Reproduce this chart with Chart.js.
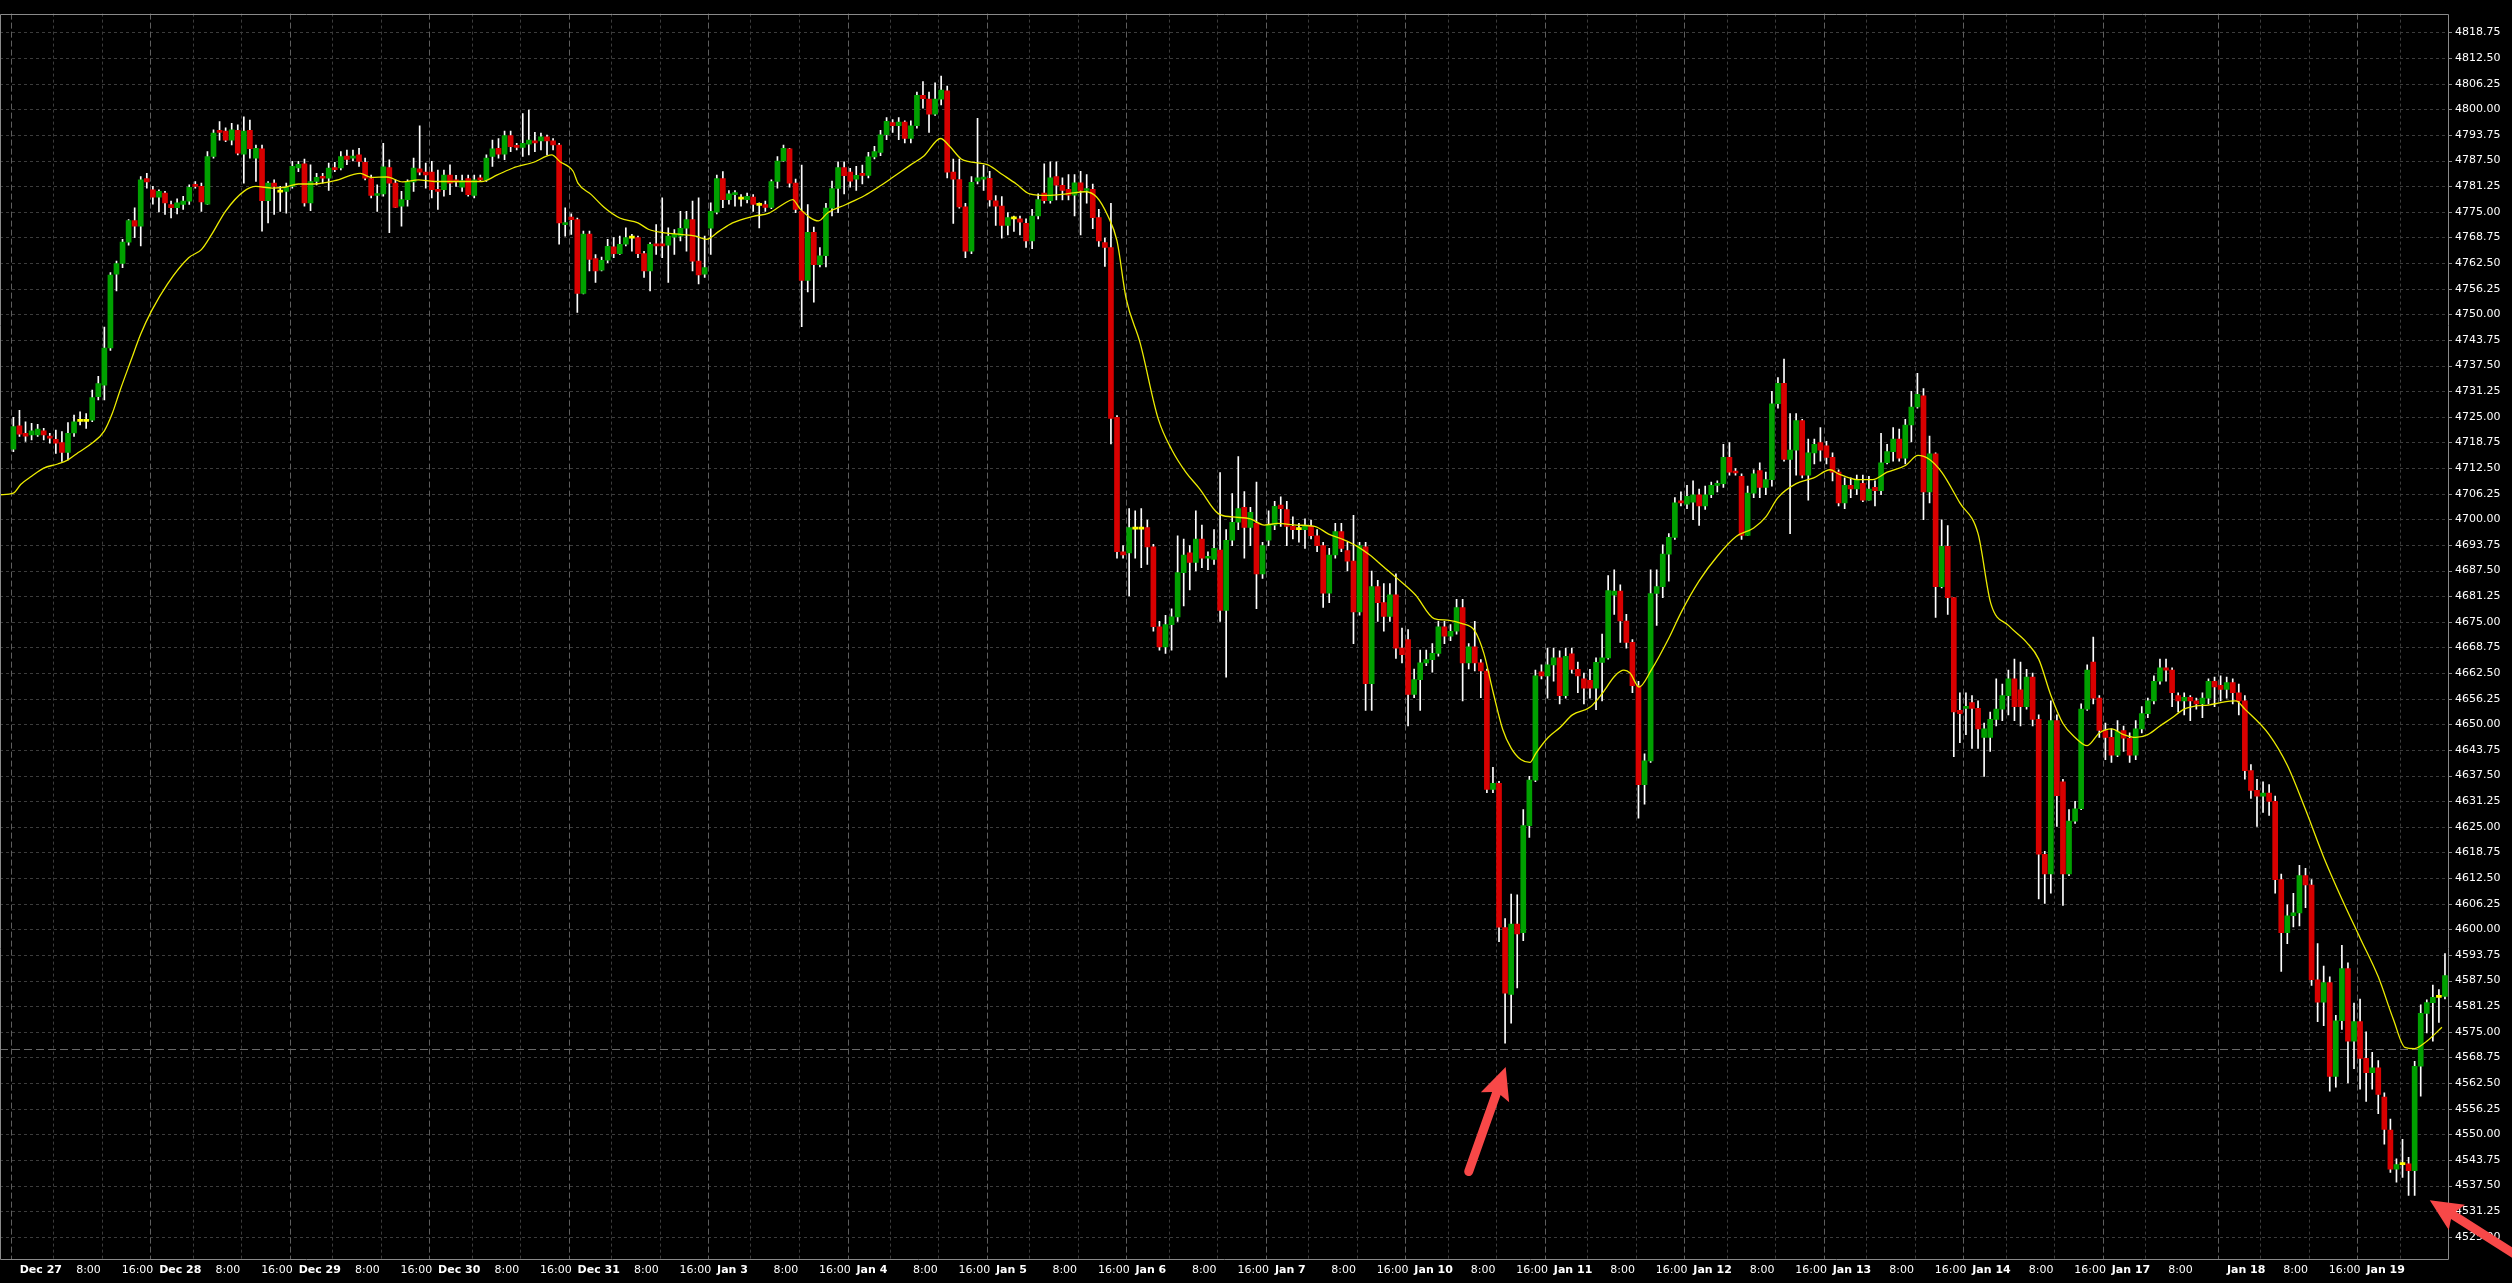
<!DOCTYPE html>
<html>
<head>
<meta charset="utf-8">
<title>Hourly candles Dec 27 - Jan 19</title>
<script src="https://cdn.jsdelivr.net/npm/chart.js@4.4.1/dist/chart.umd.min.js"></script>
<style>
  html, body { margin: 0; padding: 0; background: #000; }
  #wrap { width: 2512px; height: 1283px; }
</style>
</head>
<body>
<div id="wrap"><canvas id="chart" width="2512" height="1283"></canvas></div>
<script>
// Hourly candles, one array per trading day: [open, high, low, close]
const dec27 = [
  [4717.1,4724.9,4716.5,4722.6],[4722.8,4726.6,4720.2,4720.8],[4721.0,4723.8,4719.0,4720.3],[4720.6,4723.4,4719.4,4721.6],
  [4720.6,4723.2,4720.2,4722.0],[4721.6,4722.2,4719.4,4720.6],[4720.2,4721.0,4718.6,4719.8],[4719.5,4721.8,4716.1,4718.6],
  [4718.7,4721.4,4714.1,4716.3],[4716.3,4723.6,4714.5,4721.0],[4721.1,4725.4,4720.2,4723.8],[4723.9,4726.2,4723.0,4723.9],
  [4723.9,4725.8,4722.2,4723.9],[4724.2,4731.5,4723.8,4729.7],[4729.9,4734.9,4729.1,4733.1],[4732.7,4746.9,4729.1,4741.8],
  [4741.8,4760.2,4741.2,4759.6],[4759.8,4763.0,4755.7,4762.4],[4762.4,4768.3,4761.4,4767.6],[4767.6,4773.1,4766.9,4772.9],
  [4772.9,4776.0,4768.7,4771.5],[4771.5,4783.6,4766.7,4782.8],[4783.1,4784.4,4780.8,4782.3]
];
const dec28 = [
  [4780.4,4781.2,4776.9,4778.6],[4778.6,4780.4,4775.0,4780.0],[4779.6,4780.0,4774.4,4777.2],[4776.8,4777.6,4773.5,4776.0],
  [4776.0,4778.2,4774.5,4777.2],[4776.8,4778.8,4775.6,4777.6],[4777.6,4781.6,4776.8,4781.0],[4781.6,4782.4,4780.8,4781.2],
  [4781.2,4782.0,4775.1,4777.4],[4776.9,4789.7,4776.8,4788.5],[4788.5,4795.0,4788.1,4794.2],[4794.7,4797.0,4792.5,4794.4],
  [4794.7,4795.5,4792.1,4792.5],[4792.5,4796.6,4791.3,4795.0],[4794.9,4796.2,4788.9,4789.3],[4789.1,4798.2,4782.0,4794.7],
  [4794.9,4797.4,4788.1,4790.4],[4788.1,4791.3,4782.4,4790.5],[4790.4,4791.3,4770.3,4777.7],[4777.7,4782.4,4772.3,4782.0],
  [4782.0,4782.8,4774.4,4781.2],[4779.8,4781.2,4775.1,4779.8],[4780.0,4782.0,4774.7,4781.0]
];
const dec29 = [
  [4781.2,4787.3,4780.8,4786.1],[4785.7,4787.3,4784.8,4786.6],[4786.7,4787.9,4776.4,4777.2],[4777.2,4786.5,4775.3,4782.4],
  [4782.4,4784.4,4781.6,4783.4],[4783.6,4784.4,4782.0,4783.2],[4783.2,4786.9,4780.2,4785.7],[4785.7,4787.1,4784.8,4785.3],
  [4785.7,4789.7,4785.2,4788.5],[4788.6,4790.1,4786.5,4787.8],[4788.1,4790.1,4787.4,4788.6],[4788.9,4790.5,4786.1,4787.3],
  [4787.1,4788.1,4782.8,4783.2],[4783.1,4784.0,4778.4,4779.0],[4779.0,4781.6,4775.1,4779.4],[4779.4,4791.7,4778.8,4786.0],
  [4785.8,4787.7,4769.9,4782.0],[4782.0,4782.8,4776.0,4776.1],[4776.4,4780.0,4771.5,4778.0],[4778.0,4782.8,4776.4,4782.4],
  [4782.3,4788.1,4780.0,4785.7],[4785.5,4796.0,4784.0,4784.7],[4784.7,4786.9,4780.8,4784.0]
];
const dec30 = [
  [4784.7,4787.3,4778.4,4780.4],[4780.4,4785.2,4775.6,4780.0],[4780.4,4785.2,4778.8,4784.0],[4784.0,4786.5,4779.2,4782.0],
  [4782.8,4783.9,4781.2,4782.3],[4781.0,4784.0,4780.0,4782.6],[4783.1,4784.0,4778.8,4779.2],[4779.0,4784.0,4778.4,4782.8],
  [4783.2,4784.0,4782.4,4782.8],[4782.8,4788.9,4782.4,4788.1],[4788.5,4792.5,4786.1,4790.4],[4790.5,4792.9,4788.1,4789.1],
  [4789.1,4794.7,4787.7,4793.6],[4793.6,4794.7,4789.7,4790.9],[4791.2,4791.7,4790.1,4790.7],[4790.7,4799.0,4788.5,4791.7],
  [4791.5,4799.8,4788.9,4792.5],[4792.3,4794.4,4789.7,4791.8],[4792.3,4794.2,4790.1,4793.3],[4793.3,4793.7,4788.9,4792.3],
  [4792.3,4792.9,4790.1,4791.3],[4791.3,4791.7,4767.1,4772.3],[4771.9,4776.0,4769.1,4772.3]
];
const dec31 = [
  [4773.7,4774.5,4769.5,4773.1],[4773.1,4773.5,4750.5,4755.1],[4755.1,4770.3,4755.0,4769.6],[4769.6,4770.3,4760.6,4763.4],
  [4763.6,4764.6,4757.8,4760.6],[4760.8,4764.0,4760.6,4763.2],[4763.2,4768.3,4762.6,4766.6],[4766.5,4768.7,4763.8,4764.8],
  [4764.8,4769.1,4764.6,4767.1],[4767.1,4771.1,4766.7,4768.7],[4768.6,4769.5,4765.4,4768.6],[4768.7,4769.1,4763.8,4764.8],
  [4764.8,4765.4,4759.0,4760.6],[4760.6,4767.5,4755.7,4767.1],[4767.2,4771.9,4764.6,4766.7],[4766.9,4778.4,4763.8,4766.7],
  [4766.9,4771.1,4757.8,4769.1],[4768.8,4770.7,4764.6,4769.5],[4769.1,4775.1,4767.9,4771.0],[4771.0,4775.1,4765.4,4773.1],
  [4773.1,4777.6,4760.6,4763.0],[4763.0,4778.4,4757.4,4759.6],[4759.8,4769.1,4759.0,4761.4]
];
const jan3 = [
  [4771.0,4777.2,4764.6,4775.1],[4774.9,4784.0,4774.5,4783.1],[4783.1,4784.8,4776.0,4778.0],[4778.0,4780.2,4776.9,4779.4],
  [4779.2,4780.2,4776.4,4779.6],[4778.1,4779.2,4776.4,4778.1],[4778.0,4779.6,4777.2,4778.8],[4778.6,4779.2,4775.1,4776.8],
  [4776.6,4777.2,4771.1,4776.6],[4776.8,4777.6,4775.1,4776.1],[4776.1,4782.8,4775.8,4782.4],[4782.4,4788.5,4780.8,4787.4],
  [4787.4,4791.3,4787.3,4790.5],[4790.4,4790.5,4781.0,4782.0],[4782.0,4783.0,4774.8,4775.6],[4775.1,4786.4,4747.0,4758.3],
  [4758.3,4776.8,4755.5,4770.0],[4770.0,4771.3,4753.0,4762.1],[4762.1,4766.3,4761.6,4764.3],[4764.3,4777.1,4761.6,4775.9],
  [4775.9,4782.5,4774.0,4780.7],[4780.7,4787.2,4774.8,4785.8],[4785.8,4787.2,4779.4,4783.8]
];
const jan4 = [
  [4784.7,4785.6,4781.0,4782.5],[4783.0,4786.1,4780.2,4783.9],[4784.4,4786.4,4781.8,4783.9],[4783.9,4789.5,4783.3,4788.4],
  [4788.4,4791.0,4787.9,4789.7],[4789.5,4794.9,4788.7,4793.8],[4793.8,4798.0,4792.6,4797.1],[4796.8,4797.5,4794.4,4796.0],
  [4796.0,4798.0,4792.6,4796.9],[4796.9,4797.2,4791.8,4792.9],[4792.9,4797.2,4791.8,4796.0],[4796.0,4804.2,4795.4,4803.4],
  [4803.4,4806.8,4800.3,4802.6],[4802.5,4804.2,4794.4,4798.8],[4798.8,4806.5,4798.5,4802.5],[4802.5,4808.1,4801.1,4804.7],
  [4804.5,4805.7,4783.3,4784.7],[4784.7,4787.9,4772.2,4783.0],[4782.9,4787.9,4775.9,4776.2],[4776.2,4777.1,4763.8,4765.4],
  [4765.4,4783.6,4764.8,4782.2],[4782.5,4797.8,4781.8,4783.3],[4783.0,4786.4,4780.2,4783.3]
];
const jan5 = [
  [4783.2,4784.9,4776.4,4777.9],[4777.7,4779.0,4771.7,4776.4],[4776.4,4778.7,4768.6,4771.7],[4771.7,4774.8,4769.4,4773.6],
  [4773.3,4774.0,4770.2,4773.3],[4773.3,4774.0,4769.4,4772.5],[4772.2,4773.3,4766.3,4767.9],[4767.9,4775.6,4766.0,4774.0],
  [4774.0,4779.4,4773.3,4778.0],[4779.6,4786.7,4777.1,4777.7],[4777.7,4787.2,4777.1,4783.3],[4783.6,4787.2,4777.9,4781.5],
  [4781.5,4783.3,4777.9,4780.2],[4780.5,4784.1,4777.9,4779.1],[4779.1,4784.1,4774.0,4782.1],[4782.1,4784.9,4769.4,4780.2],
  [4780.2,4784.1,4777.1,4780.7],[4780.5,4781.8,4770.9,4773.6],[4773.6,4775.6,4766.6,4767.9],[4767.5,4768.6,4761.7,4766.3],
  [4766.3,4777.1,4718.4,4724.6],[4724.9,4725.3,4690.5,4692.1],[4692.1,4693.6,4690.5,4691.3]
];
const jan6 = [
  [4691.8,4702.6,4681.3,4698.0],[4697.6,4702.1,4690.5,4697.6],[4697.6,4702.6,4688.2,4697.6],[4698.0,4699.8,4689.0,4693.3],
  [4693.3,4693.9,4672.7,4673.8],[4673.8,4675.1,4668.1,4668.9],[4668.9,4676.6,4667.3,4674.3],[4674.3,4678.2,4668.1,4676.2],
  [4676.2,4696.0,4675.1,4687.0],[4687.0,4695.2,4678.9,4691.3],[4691.8,4693.6,4682.8,4689.5],[4689.5,4702.1,4687.4,4695.2],
  [4695.2,4698.6,4688.2,4690.5],[4690.5,4692.1,4687.7,4690.7],[4690.2,4697.5,4689.0,4692.9],[4692.5,4711.4,4675.1,4677.8],
  [4677.8,4697.5,4661.5,4694.9],[4694.9,4706.3,4693.6,4699.3],[4699.3,4715.3,4697.5,4702.6],[4702.9,4706.8,4690.5,4698.0],
  [4698.0,4702.9,4693.6,4701.7],[4699.0,4709.1,4678.2,4686.7],[4686.7,4694.4,4685.6,4693.6]
];
const jan7 = [
  [4694.9,4702.1,4693.6,4698.6],[4698.6,4704.4,4697.5,4703.2],[4703.5,4705.5,4698.3,4702.6],[4702.4,4704.4,4693.6,4698.3],
  [4698.3,4700.6,4695.2,4697.5],[4697.5,4699.0,4694.4,4697.5],[4697.5,4700.1,4692.9,4698.6],[4698.3,4699.8,4695.2,4696.0],
  [4696.0,4697.5,4692.1,4693.6],[4693.6,4694.4,4678.5,4682.0],[4682.0,4692.9,4679.7,4691.3],[4691.3,4699.0,4690.5,4697.0],
  [4697.0,4699.0,4692.1,4692.9],[4692.4,4694.4,4687.4,4689.8],[4689.8,4701.0,4669.7,4677.4],[4677.4,4694.4,4676.6,4693.6],
  [4693.3,4694.4,4653.4,4659.9],[4659.9,4687.4,4653.4,4683.6],[4683.6,4685.1,4675.1,4679.7],[4679.7,4684.3,4672.7,4676.3],
  [4676.3,4684.3,4675.1,4681.6],[4681.6,4686.7,4666.1,4668.6],[4668.6,4673.5,4665.0,4667.0]
];
const jan10 = [
  [4670.7,4673.1,4649.6,4657.3],[4657.3,4663.5,4656.5,4660.9],[4660.9,4668.1,4653.4,4665.0],[4665.0,4668.1,4664.3,4665.8],
  [4665.8,4669.7,4662.7,4667.3],[4667.3,4675.1,4666.6,4673.8],[4673.8,4675.1,4669.7,4671.5],[4671.5,4674.3,4670.4,4672.7],
  [4672.7,4680.5,4672.0,4678.5],[4678.5,4680.5,4655.7,4665.0],[4665.0,4669.7,4663.5,4668.9],[4668.9,4675.1,4663.0,4665.0],
  [4665.0,4665.8,4656.5,4663.0],[4663.0,4663.5,4633.3,4634.1],[4634.1,4639.5,4633.3,4635.6],[4635.6,4636.1,4597.0,4600.5],
  [4600.4,4602.6,4572.2,4584.4],[4584.1,4608.6,4577.1,4601.3],[4601.3,4608.4,4585.7,4598.9],[4599.2,4629.2,4597.2,4625.3],
  [4625.3,4637.3,4622.4,4636.4],[4636.4,4663.2,4636.0,4661.8],[4662.8,4664.5,4661.1,4661.8]
];
const jan11 = [
  [4661.8,4668.6,4656.4,4664.5],[4664.5,4668.6,4660.5,4666.2],[4666.2,4667.9,4655.0,4657.0],[4657.0,4668.6,4656.4,4666.6],
  [4667.2,4668.6,4662.5,4663.4],[4663.4,4665.2,4657.7,4661.8],[4661.1,4662.5,4655.0,4658.8],[4660.7,4663.4,4656.4,4658.8],
  [4658.8,4666.2,4653.6,4665.1],[4665.1,4672.0,4655.7,4666.2],[4666.2,4686.3,4665.9,4682.6],[4681.5,4687.7,4676.8,4682.5],
  [4682.5,4684.0,4670.0,4675.2],[4675.2,4676.8,4668.6,4670.0],[4670.0,4670.7,4657.7,4659.4],[4659.4,4660.5,4627.1,4635.3],
  [4635.3,4642.8,4630.5,4641.1],[4641.1,4687.7,4640.7,4681.9],[4681.9,4687.7,4674.1,4683.6],[4683.6,4693.8,4680.9,4691.5],
  [4691.5,4696.5,4684.9,4695.6],[4695.6,4705.3,4695.1,4704.0],[4704.5,4706.7,4703.3,4704.0]
];
const jan12 = [
  [4703.7,4708.3,4702.6,4705.6],[4704.2,4709.4,4699.9,4706.0],[4706.0,4707.4,4698.5,4703.3],[4703.3,4708.1,4702.4,4706.0],
  [4706.0,4709.1,4705.3,4708.3],[4708.3,4709.4,4706.7,4708.7],[4708.7,4718.3,4707.8,4715.1],[4715.1,4718.7,4710.8,4711.5],
  [4711.5,4712.4,4710.8,4711.3],[4710.5,4711.1,4695.1,4696.1],[4696.1,4708.1,4696.1,4706.4],[4706.4,4712.1,4705.3,4711.1],
  [4711.9,4713.8,4705.3,4707.8],[4707.8,4711.5,4706.0,4709.7],[4709.7,4731.2,4708.1,4728.2],[4728.2,4734.6,4727.1,4733.2],
  [4733.2,4739.1,4714.2,4714.6],[4714.6,4725.8,4696.5,4716.9],[4716.9,4725.8,4710.8,4724.1],[4724.1,4724.4,4710.1,4710.8],
  [4710.8,4719.6,4704.7,4716.2],[4716.2,4719.6,4713.5,4718.3],[4718.7,4722.4,4714.2,4716.9]
];
const jan13 = [
  [4717.9,4719.0,4713.5,4715.1],[4715.1,4716.2,4709.4,4711.5],[4711.5,4712.1,4703.3,4704.0],[4704.0,4710.1,4702.6,4708.3],
  [4708.3,4710.1,4705.3,4707.4],[4707.4,4710.8,4706.0,4709.7],[4708.8,4710.8,4704.3,4704.7],[4704.7,4710.5,4704.7,4707.4],
  [4707.8,4709.4,4703.3,4707.0],[4707.0,4721.0,4706.0,4713.8],[4713.8,4718.3,4713.5,4716.5],[4716.5,4722.4,4714.2,4719.6],
  [4719.6,4722.0,4714.2,4714.9],[4714.9,4724.4,4713.5,4723.0],[4723.0,4731.2,4718.9,4727.4],[4727.4,4735.6,4727.1,4730.5],
  [4730.1,4731.9,4699.9,4706.7],[4706.7,4720.3,4704.0,4716.0],[4716.0,4716.2,4676.1,4683.6],[4683.6,4699.9,4683.3,4693.4],
  [4693.4,4698.5,4676.8,4680.9],[4680.9,4680.9,4642.1,4653.0],[4653.4,4657.7,4645.5,4652.6]
];
const jan14 = [
  [4653.9,4657.7,4647.5,4654.3],[4655.3,4657.0,4644.1,4653.9],[4653.9,4655.7,4644.1,4648.9],[4646.8,4650.3,4637.3,4648.9],
  [4646.8,4653.0,4643.4,4651.2],[4651.2,4661.1,4649.6,4653.7],[4653.7,4659.8,4650.9,4657.0],[4657.0,4663.2,4652.3,4661.1],
  [4661.1,4665.9,4650.9,4654.3],[4658.4,4665.2,4649.6,4654.3],[4654.3,4663.4,4653.7,4661.5],[4661.5,4662.5,4649.6,4651.2],
  [4651.2,4652.3,4607.4,4618.3],[4618.3,4619.0,4606.3,4613.5],[4613.5,4655.7,4608.8,4650.9],[4650.9,4652.3,4625.1,4632.6],
  [4636.0,4636.6,4605.8,4613.5],[4613.5,4629.2,4613.1,4626.4],[4626.4,4631.2,4625.8,4629.4],[4629.4,4655.0,4629.2,4653.7],
  [4653.7,4664.5,4653.4,4663.2],[4665.2,4671.3,4655.0,4656.4],[4656.4,4657.0,4646.8,4648.5]
];
const jan17 = [
  [4648.5,4650.3,4641.4,4646.8],[4646.8,4648.9,4640.7,4642.5],[4642.5,4650.9,4642.1,4648.2],[4648.5,4649.6,4643.4,4646.6],
  [4646.6,4647.9,4640.7,4642.5],[4642.5,4650.9,4641.4,4648.9],[4648.9,4654.3,4647.9,4652.6],[4652.6,4656.4,4651.6,4655.7],
  [4655.7,4661.8,4655.0,4660.5],[4660.5,4665.9,4659.8,4663.8],[4663.8,4665.9,4660.5,4663.2],[4663.2,4663.8,4654.3,4657.7],
  [4657.0,4657.7,4653.0,4655.7],[4655.7,4657.7,4652.3,4656.6],[4656.6,4657.0,4650.9,4655.7],[4655.7,4656.4,4653.7,4655.0],
  [4655.0,4657.7,4651.6,4656.4],[4656.4,4661.1,4655.0,4660.5],[4660.5,4661.5,4654.3,4659.1]
];
const jan18 = [
  [4659.5,4661.8,4655.7,4658.5],[4658.5,4661.5,4656.4,4660.2],[4660.2,4661.1,4655.0,4657.7],[4657.7,4659.8,4652.3,4655.7],
  [4655.7,4657.0,4636.6,4638.7],[4638.7,4640.2,4631.9,4633.9],[4633.9,4636.6,4625.1,4632.5],[4632.5,4636.0,4628.5,4633.2],
  [4633.2,4635.3,4627.8,4631.2],[4631.2,4632.5,4608.8,4612.1],[4612.1,4613.5,4589.7,4599.2],[4599.2,4606.0,4596.5,4603.3],
  [4603.3,4608.8,4600.6,4604.0],[4604.0,4615.6,4600.8,4613.1],[4613.1,4614.9,4605.3,4610.8],[4610.8,4612.1,4586.3,4587.7],
  [4587.7,4596.5,4577.5,4582.2],[4582.2,4591.0,4576.5,4587.0],[4587.0,4588.4,4560.5,4564.1],[4564.1,4579.0,4561.5,4577.7],
  [4577.7,4596.1,4575.6,4590.4],[4590.4,4591.8,4562.5,4572.7],[4572.7,4582.0,4566.0,4577.5]
];
const jan19 = [
  [4577.5,4583.0,4561.0,4568.5],[4568.5,4575.0,4558.0,4565.0],[4565.0,4570.0,4561.0,4566.2],[4566.2,4568.0,4555.0,4559.7],
  [4559.1,4560.1,4547.6,4551.2],[4551.0,4553.7,4540.7,4541.5],[4541.5,4544.0,4538.3,4542.6],[4542.6,4548.8,4539.5,4542.6],
  [4542.8,4544.4,4535.1,4541.1],[4541.1,4567.8,4535.1,4566.6],[4566.6,4581.6,4559.3,4579.5],[4579.5,4582.8,4574.7,4582.1],
  [4582.1,4586.4,4572.7,4583.4],[4583.4,4585.3,4577.3,4583.4],[4583.6,4594.1,4583.0,4588.7]
];

const sessions = [dec27, dec28, dec29, dec30, dec31, jan3, jan4, jan5, jan6, jan7, jan10, jan11, jan12, jan13, jan14, jan17, jan18, jan19];
const dayNames = ['Dec 27','Dec 28','Dec 29','Dec 30','Dec 31','Jan 3','Jan 4','Jan 5','Jan 6','Jan 7','Jan 10','Jan 11','Jan 12','Jan 13','Jan 14','Jan 17','Jan 18','Jan 19'];
// hour marks of each day (bar offset from the first bar of the day, which opens at 01:00)
const hourNames = ['8:00', '16:00'];
const hourOffsets = [7, 15];
const hoursPerDay = [2,2,2,2,2,2,2,2,2,2,2,2,2,2,2,1,2,1];
const hourLabelShown = [1,1,1,1,1,1,1,1,1,1,1,1,1,1,1,1,1,0];

// yellow moving average, read at bar positions
const maBar = [-2.2,0,1.2,3,5,7.3,9,10.7,13,15,16.3,17.6,19.4,21,22.8,25.4,28.9,31,32.7,35,38,40,42.7,44.8,47,49.6,53,57.2,59,61.6,64.2,66.8,69.4,73.7,77.2,79.8,82.4,85.8,88.8,90.1,92.3,93.1,95.3,97.5,100,103,104.8,107.4,110,112.5,114.3,116.4,118.6,122,124.6,127.2,128.5,129.8,132.8,134.3,137.3,140.4,142.6,144.9,147.9,150.2,152.9,154.4,156.3,157.8,160.8,163.1,165.4,167.6,170.6,173.7,176.7,178.6,180.5,182,183.5,185.8,188.8,191.1,193.4,195.6,198.7,201,204,206.3,208.5,211.6,214.6,216.9,219.1,221.4,223.7,225.9,228.2,231.2,234.3,236.5,238.8,241,242.5,244,245.6,247,248.6,250.1,251.1,253.1,255.1,257.1,260.1,262.1,264.1,265.6,266.6,268.1,270.1,273.1,275.1,278,281,284.1,287,289,291,294,296.9,299.6,301,304,306.6,309,312.1,314.1,316,318,321,324,326.1,329.1,332,334,336,338,340,342,344,346,348,350,352,354,356,358,360,362,364,366.5,368,372,375,378,381,384,387,390,392.5,394.4,396,398,400.5];
const maValue = [4706.0,4706.4,4708.5,4710.5,4712.5,4713.5,4714.5,4716.3,4718.6,4721.6,4725.8,4731.5,4738.8,4745.2,4750.9,4757.4,4763.8,4765.8,4769.5,4775.2,4780.0,4781.2,4780.8,4781.0,4781.8,4781.8,4782.6,4784.4,4783.4,4783.5,4782.3,4782.8,4782.4,4782.4,4782.4,4784.0,4785.7,4787.1,4788.9,4787.3,4784.9,4782.0,4779.2,4776.0,4773.5,4772.3,4770.7,4769.9,4769.5,4769.1,4768.3,4770.3,4772.3,4773.9,4774.7,4777.1,4778.0,4775.6,4772.8,4774.8,4776.8,4779.0,4781.0,4783.3,4786.4,4788.7,4792.9,4791.0,4787.9,4787.2,4786.4,4784.1,4781.8,4779.4,4779.0,4779.4,4779.9,4778.7,4774.0,4767.9,4753.9,4743.1,4724.5,4716.8,4711.4,4707.5,4701.4,4700.6,4700.1,4698.6,4699.0,4698.6,4698.3,4696.4,4695.2,4693.6,4691.3,4688.5,4685.6,4681.6,4675.8,4675.4,4674.6,4672.8,4667.3,4658.0,4648.8,4644.2,4641.4,4640.7,4643.0,4646.8,4649.3,4652.3,4654.3,4657.7,4661.8,4663.2,4662.5,4659.1,4663.2,4671.3,4677.5,4685.0,4691.0,4695.8,4697.9,4700.6,4705.3,4708.7,4710.1,4712.1,4711.1,4709.7,4709.7,4711.5,4713.2,4715.6,4714.6,4711.5,4704.0,4696.5,4679.5,4674.0,4670.0,4665.9,4657.1,4650.2,4646.8,4644.8,4647.9,4648.9,4647.5,4646.8,4647.5,4649.6,4651.6,4653.7,4654.5,4654.7,4655.3,4655.7,4653.7,4647.5,4640.0,4629.2,4617.6,4607.4,4597.9,4588.4,4578.0,4571.2,4570.9,4572.7,4576.1];

// price axis ticks and the grey dashed horizontal level
const priceTicks = [4525.00,4531.25,4537.50,4543.75,4550.00,4556.25,4562.50,4568.75,4575.00,4581.25,4587.50,4593.75,4600.00,4606.25,4612.50,4618.75,4625.00,4631.25,4637.50,4643.75,4650.00,4656.25,4662.50,4668.75,4675.00,4681.25,4687.50,4693.75,4700.00,4706.25,4712.50,4718.75,4725.00,4731.25,4737.50,4743.75,4750.00,4756.25,4762.50,4768.75,4775.00,4781.25,4787.50,4793.75,4800.00,4806.25,4812.50,4818.75];
const levelPrice = 4570.9;

// red annotation arrows: [tailBar, tailPrice, tipBar, tipPrice]
const arrowMarks = [
  [240.0, 4540.9, 246.1, 4566.4],
  [415.0, 4518.4, 398.5, 4533.9]
];

const barMin = -2.21, barMax = 401.5;
const priceMin = 4519.58, priceMax = 4823.36;

const UP = '#00a000', DOWN = '#d80000', DOJI = '#ffff00', WICK = '#ffffff';
const GRID = '#3c3c3c', SEP = '#5e5e5e', FRAME = '#8a8a8a';

// flatten sessions into bars
const candles = [];
const dayFirstBar = [];
sessions.forEach(day => { dayFirstBar.push(candles.length); day.forEach(c => candles.push(c)); });

const wickData = candles.map((c, i) => ({ x: i, y: [c[2], c[1]] }));
const bodyData = candles.map((c, i) => ({ x: i, y: [Math.min(c[0], c[3]), Math.max(c[0], c[3])] }));
const maData = maBar.map((b, k) => ({ x: b, y: maValue[k] }));

function bodyColor(ctx) {
  const c = candles[ctx.dataIndex];
  if (!c) return UP;
  if (c[0] === c[3]) return DOJI;
  return c[3] > c[0] ? UP : DOWN;
}

function crisp(v) { return Math.round(v) + 0.5; }

const gridPlugin = {
  id: 'mtGrid',
  beforeDraw(chart) {
    const c = chart.ctx;
    c.save();
    c.fillStyle = '#000';
    c.fillRect(0, 0, chart.width, chart.height);
    c.restore();
  },
  beforeDatasetsDraw(chart) {
    const c = chart.ctx, a = chart.chartArea, xs = chart.scales.x, ys = chart.scales.y;
    c.save();
    c.lineWidth = 1;
    // horizontal grid
    c.strokeStyle = GRID;
    c.setLineDash([3, 3]);
    priceTicks.forEach(p => {
      const y = crisp(ys.getPixelForValue(p));
      c.beginPath(); c.moveTo(a.left, y); c.lineTo(a.right, y); c.stroke();
    });
    // vertical: hour lines then day separators
    const sepShift = -0.445;
    dayFirstBar.forEach((fb, d) => {
      for (let h = 0; h < hoursPerDay[d]; h++) {
        const x = crisp(xs.getPixelForValue(fb + hourOffsets[h] + sepShift));
        c.strokeStyle = GRID; c.setLineDash([3, 3]);
        c.beginPath(); c.moveTo(x, a.top); c.lineTo(x, a.bottom); c.stroke();
      }
      const x = crisp(xs.getPixelForValue(fb + sepShift));
      c.strokeStyle = SEP; c.setLineDash([6, 3]);
      c.beginPath(); c.moveTo(x, a.top); c.lineTo(x, a.bottom); c.stroke();
    });
    // horizontal level line
    c.strokeStyle = '#6a6a6a';
    c.setLineDash([8, 4]);
    const ly = crisp(ys.getPixelForValue(levelPrice));
    c.beginPath(); c.moveTo(a.left, ly); c.lineTo(a.right, ly); c.stroke();
    c.restore();
  },
  afterDatasetsDraw(chart) {
    const c = chart.ctx, a = chart.chartArea, ys = chart.scales.y;
    c.save();
    c.strokeStyle = FRAME;
    c.lineWidth = 1;
    c.setLineDash([]);
    c.beginPath();
    c.moveTo(0.5, crisp(a.top)); c.lineTo(crisp(a.right), crisp(a.top));
    c.lineTo(crisp(a.right), crisp(a.bottom)); c.lineTo(0.5, crisp(a.bottom));
    c.lineTo(0.5, crisp(a.top));
    c.stroke();
    priceTicks.forEach(p => {
      const y = crisp(ys.getPixelForValue(p));
      c.beginPath(); c.moveTo(a.right, y); c.lineTo(a.right + 4, y); c.stroke();
    });
    c.restore();
  }
};

function drawArrow(c, x1, y1, x2, y2) {
  const shaftW = 9, headLen = 32, headW = 30;
  const ang = Math.atan2(y2 - y1, x2 - x1);
  const len = Math.hypot(x2 - x1, y2 - y1);
  c.save();
  c.translate(x2, y2);
  c.rotate(ang);
  c.beginPath();
  c.moveTo(0, 0);
  c.lineTo(-headLen, headW / 2);
  c.lineTo(-headLen + 4, shaftW / 2);
  c.lineTo(-len, shaftW / 2);
  c.arc(-len, 0, shaftW / 2, Math.PI / 2, -Math.PI / 2);
  c.lineTo(-headLen + 4, -shaftW / 2);
  c.lineTo(-headLen, -headW / 2);
  c.closePath();
  c.fill();
  c.restore();
}

const overlayPlugin = {
  id: 'mtOverlay',
  afterDraw(chart) {
    const c = chart.ctx, a = chart.chartArea, xs = chart.scales.x, ys = chart.scales.y;
    c.save();
    c.fillStyle = '#ffffff';
    c.textBaseline = 'middle';
    c.textAlign = 'left';
    const ty = a.bottom + 11;
    const sepShift = -0.445;
    dayFirstBar.forEach((fb, d) => {
      const sx = xs.getPixelForValue(fb + sepShift);
      c.font = 'bold 11px "DejaVu Sans"';
      c.fillText(dayNames[d], sx + 9, ty);
      if (!hourLabelShown[d]) return;
      c.font = '11px "DejaVu Sans"';
      for (let h = 0; h < hoursPerDay[d]; h++) {
        const hx = xs.getPixelForValue(fb + hourOffsets[h] + sepShift);
        c.fillText(hourNames[h], hx + (h === 0 ? 23 : 20), ty);
      }
    });
    // annotation arrows
    c.fillStyle = '#f84848';
    arrowMarks.forEach(m => {
      drawArrow(c, xs.getPixelForValue(m[0]), ys.getPixelForValue(m[1]),
                   xs.getPixelForValue(m[2]), ys.getPixelForValue(m[3]));
    });
    c.restore();
  }
};

new Chart(document.getElementById('chart').getContext('2d'), {
  type: 'bar',
  data: {
    datasets: [
      {
        type: 'line', label: 'MA', data: maData,
        borderColor: '#ecec00', borderWidth: 1.3, pointRadius: 0,
        cubicInterpolationMode: 'monotone', order: 1
      },
      {
        type: 'bar', label: 'Body', data: bodyData,
        backgroundColor: bodyColor, borderWidth: 0,
        grouped: false, barThickness: 5, maxBarThickness: 5, minBarLength: 2, order: 2
      },
      {
        type: 'bar', label: 'Wick', data: wickData,
        backgroundColor: WICK, borderWidth: 0,
        grouped: false, barThickness: 1, maxBarThickness: 1, order: 3
      }
    ]
  },
  options: {
    responsive: false,
    animation: false,
    devicePixelRatio: 1,
    layout: { padding: { top: 6, left: 0, right: 0, bottom: 24 } },
    plugins: { legend: { display: false }, tooltip: { enabled: false } },
    scales: {
      x: { type: 'linear', min: barMin, max: barMax, offset: false, display: false },
      y: {
        type: 'linear', position: 'right', min: priceMin, max: priceMax,
        grid: { display: false, drawTicks: false },
        border: { display: false },
        afterBuildTicks: s => { s.ticks = priceTicks.map(v => ({ value: v })); },
        afterFit: s => { s.width = 64; },
        ticks: {
          color: '#ffffff', padding: 7, autoSkip: false,
          font: { family: 'DejaVu Sans', size: 11 },
          callback: v => Number(v).toFixed(2)
        }
      }
    }
  },
  plugins: [gridPlugin, overlayPlugin]
});
</script>
</body>
</html>
